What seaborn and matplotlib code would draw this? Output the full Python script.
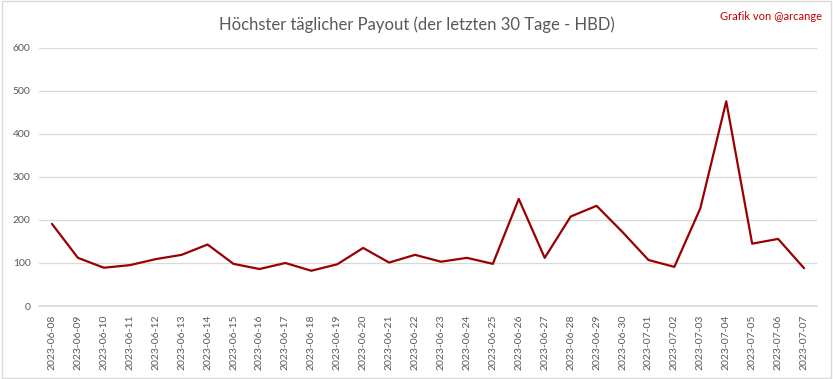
import pandas as pd
import matplotlib
matplotlib.use("Agg")
import matplotlib.pyplot as plt
import seaborn as sns

# Daten
dates = [
    "2023-06-08", "2023-06-09", "2023-06-10", "2023-06-11", "2023-06-12",
    "2023-06-13", "2023-06-14", "2023-06-15", "2023-06-16", "2023-06-17",
    "2023-06-18", "2023-06-19", "2023-06-20", "2023-06-21", "2023-06-22",
    "2023-06-23", "2023-06-24", "2023-06-25", "2023-06-26", "2023-06-27",
    "2023-06-28", "2023-06-29", "2023-06-30", "2023-07-01", "2023-07-02",
    "2023-07-03", "2023-07-04", "2023-07-05", "2023-07-06", "2023-07-07",
]
payout = [
    191, 112, 89, 95, 109,
    119, 143, 98, 86, 100,
    82, 97, 135, 101, 119,
    103, 112, 98, 249, 112,
    208, 233, 172, 107, 91,
    227, 476, 145, 156, 88,
]
y_ticks = [0, 100, 200, 300, 400, 500, 600]

df = pd.DataFrame({"Datum": dates, "Payout": payout})

sns.set_theme(style="white")
plt.rcParams["font.family"] = ["Lato", "DejaVu Sans"]

fig = plt.figure(figsize=(8.33, 3.79), dpi=100)
ax = fig.add_axes([39 / 833, 1 - 306 / 379, 778 / 833, 258 / 379])

sns.lineplot(data=df, x="Datum", y="Payout", ax=ax, color="#9b0000",
             linewidth=1.6, sort=False)

ax.set_xlim(-0.5, len(dates) - 0.5)
ax.set_ylim(0, 600)
ax.set_yticks(y_ticks)
ax.set_yticklabels([str(v) for v in y_ticks], fontsize=7.5, color="#595959")
ax.set_xticks(range(len(dates)))
ax.set_xticklabels(dates, rotation=90, fontsize=7.5, color="#595959")
ax.tick_params(axis="both", length=0, pad=6)
ax.grid(axis="y", color="#d9d9d9", linewidth=0.9)
ax.set_axisbelow(True)
for side in ["top", "right", "left"]:
    ax.spines[side].set_visible(False)
ax.spines["bottom"].set_color("#d9d9d9")
ax.set_xlabel("")
ax.set_ylabel("")

fig.text(0.5, 1 - 25 / 379, "Höchster täglicher Payout (der letzten 30 Tage - HBD)",
         ha="center", va="center", fontsize=12, color="#595959")
fig.text(822 / 833, 1 - 17 / 379, "Grafik von @arcange", ha="right", va="center",
         fontsize=8, color="#c00000")

# Rahmen
fig.patches.append(plt.Rectangle((0.002, 0.003), 0.996, 0.994, transform=fig.transFigure,
                                 fill=False, edgecolor="#d9d9d9", linewidth=1))

fig.savefig("out.png", dpi=100)
